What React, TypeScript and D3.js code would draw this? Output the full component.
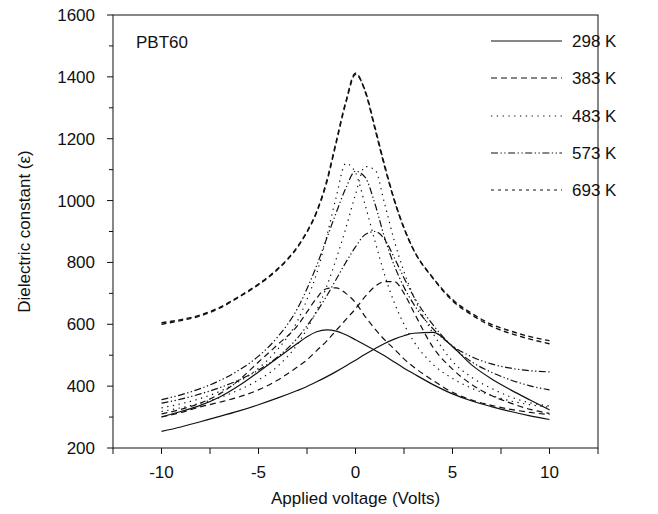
import React from "react";
import * as d3 from "d3";

const voltages = [-10, -9, -8, -7, -6, -5, -4, -3, -2.5, -2, -1.5, -1, -0.5, 0, 0.5, 1, 1.5, 2, 2.5, 3, 4, 5, 6, 7, 8, 9, 10];

const k298a = [301, 318, 338, 365, 402, 446, 492, 538, 560, 576, 582, 578, 566, 550, 533, 516, 498, 478, 458, 440, 405, 375, 352, 334, 318, 304, 292];
const k298b = [254, 268, 285, 302, 320, 340, 362, 386, 399, 414, 430, 447, 465, 484, 503, 521, 538, 552, 563, 571, 574, 528, 468, 424, 388, 355, 323];
const k383a = [310, 325, 345, 375, 420, 478, 535, 595, 640, 685, 715, 718, 700, 670, 625, 585, 550, 520, 488, 462, 418, 380, 355, 338, 325, 315, 308];
const k383b = [300, 315, 333, 348, 365, 388, 420, 462, 485, 515, 545, 580, 615, 650, 690, 722, 738, 738, 700, 640, 525, 455, 405, 370, 345, 325, 312];
const k483a = [330, 343, 360, 383, 415, 458, 520, 610, 680, 765, 880, 1010, 1120, 1090, 985, 870, 760, 670, 600, 545, 470, 425, 393, 370, 352, 340, 332];
const k483b = [318, 330, 345, 363, 388, 420, 465, 535, 585, 645, 720, 810, 910, 1020, 1110, 1100, 990, 870, 770, 690, 570, 480, 428, 393, 365, 346, 336];
const k573a = [356, 372, 392, 418, 452, 497, 560, 650, 715, 790, 875, 960, 1040, 1095, 1075, 990, 880, 790, 720, 665, 585, 530, 495, 472, 458, 450, 446];
const k573b = [345, 358, 375, 395, 420, 452, 495, 555, 595, 640, 690, 745, 800, 850, 890, 900, 875, 815, 750, 690, 598, 528, 478, 445, 420, 401, 388];
const k693a = [605, 615, 630, 655, 690, 730, 780, 850, 900, 965, 1060, 1190, 1320, 1412, 1352, 1232, 1110, 1000, 910, 840, 750, 680, 635, 600, 578, 560, 547];
const k693b = [600, 612, 627, 652, 688, 728, 778, 848, 898, 962, 1055, 1185, 1315, 1408, 1355, 1238, 1115, 1003, 912, 840, 748, 676, 630, 594, 570, 552, 537];

const legendLabels = ["298 K", "383 K", "483 K", "573 K", "693 K"];
const xTicks = [-10, -5, 0, 5, 10];
const xMinorTicks = [-12.5, -7.5, -2.5, 2.5, 7.5, 12.5];
const yTicks = [200, 400, 600, 800, 1000, 1200, 1400, 1600];
const yMinorTicks = [300, 500, 700, 900, 1100, 1300, 1500];

const dashes = ["", "6,4", "1.3,4.5", "7,2.5,1.3,2.5,1.3,2.5", "5,3.5"];
const legendDashes = ["", "6,4", "1.3,4.5", "7,2.5,1.3,2.5,1.3,2.5", "3,4"];
const widths = [1.2, 1.2, 1.2, 1.2, 1.4];

const series = [
  { t: 0, v: k298a },
  { t: 0, v: k298b },
  { t: 1, v: k383a },
  { t: 1, v: k383b },
  { t: 2, v: k483a },
  { t: 2, v: k483b },
  { t: 3, v: k573a },
  { t: 3, v: k573b },
  { t: 4, v: k693a },
  { t: 4, v: k693b },
];

export default function App() {
  const L = 113, R = 598, T = 15, B = 448;
  const x = d3.scaleLinear().domain([-12.5, 12.5]).range([L, R]);
  const y = d3.scaleLinear().domain([200, 1600]).range([B, T]);
  const line = d3
    .line<number>()
    .x((_, i) => x(voltages[i]))
    .y((d) => y(d))
    .curve(d3.curveMonotoneX);
  const font = "Arial, 'Liberation Sans', sans-serif";
  const ink = "#111";
  const legendY = [41, 78, 116, 153, 190];
  return (
    <svg width={658} height={514} style={{ position: "absolute", left: 0, top: 0 }} fontFamily={font}>
      <rect x={0} y={0} width={658} height={514} fill="#fff" />
      {series.map((s, i) => (
        <path key={i} d={line(s.v) || ""} fill="none" stroke={ink} strokeWidth={widths[s.t]} strokeDasharray={dashes[s.t]} />
      ))}
      <rect x={L} y={T} width={R - L} height={B - T} fill="none" stroke={ink} strokeWidth={1} />
      {xTicks.map((t) => (
        <g key={"x" + t}>
          <line x1={x(t)} x2={x(t)} y1={B} y2={B + 6} stroke={ink} />
          <text x={x(t)} y={B + 30} textAnchor="middle" fontSize={17} fill={ink}>{t}</text>
        </g>
      ))}
      {xMinorTicks.map((t) => (
        <line key={"xm" + t} x1={x(t)} x2={x(t)} y1={B} y2={B + 6} stroke={ink} />
      ))}
      {yTicks.map((t) => (
        <g key={"y" + t}>
          <line x1={L - 6} x2={L} y1={y(t)} y2={y(t)} stroke={ink} />
          <text x={L - 18} y={y(t) + 6} textAnchor="end" fontSize={17} fill={ink}>{t}</text>
        </g>
      ))}
      {yMinorTicks.map((t) => (
        <line key={"ym" + t} x1={L - 4} x2={L} y1={y(t)} y2={y(t)} stroke={ink} />
      ))}
      <text x={x(0)} y={504} textAnchor="middle" fontSize={17} fill={ink}>Applied voltage (Volts)</text>
      <text transform={`translate(30,${(T + B) / 2}) rotate(-90)`} textAnchor="middle" fontSize={17} fill={ink}>Dielectric constant (ε)</text>
      <text x={136} y={48} fontSize={17} fill={ink}>PBT60</text>
      {legendLabels.map((lab, i) => (
        <g key={lab}>
          <line x1={491} x2={562} y1={legendY[i]} y2={legendY[i]} stroke={ink} strokeWidth={1.2} strokeDasharray={legendDashes[i]} />
          <text x={572} y={legendY[i] + 6} fontSize={17} fill={ink}>{lab}</text>
        </g>
      ))}
    </svg>
  );
}
